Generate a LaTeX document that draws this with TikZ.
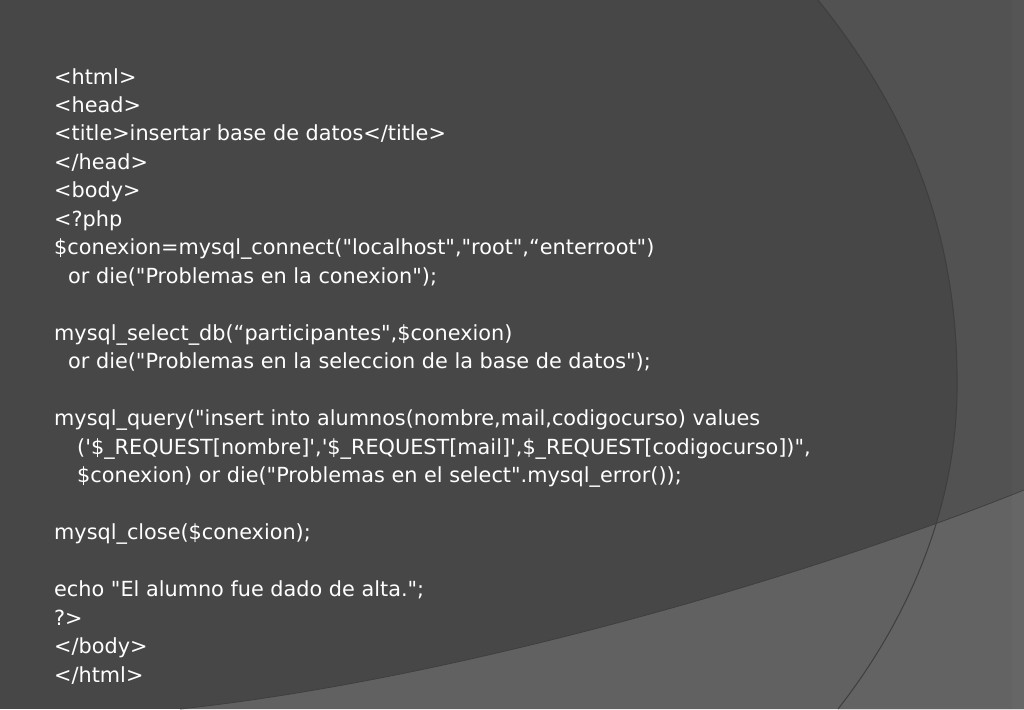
\documentclass[tikz,border=0pt]{standalone}
\usepackage{fontspec}
\newfontfamily\code{DejaVu Sans}
\def\q{\textquotesingle}
\definecolor{bgmain}{RGB}{71,71,71}
\definecolor{bgright}{RGB}{82,82,82}
\definecolor{bglow}{RGB}{102,102,102}
\definecolor{arcline}{RGB}{62,62,62}
\begin{document}
\begin{tikzpicture}[x=1pt,y=-1pt,
  ln/.style={anchor=base west,inner sep=0pt,text=white,font=\code\fontsize{20.8}{24}\selectfont}]
\useasboundingbox (0,0) rectangle (1024,709);
\fill[bgmain] (0,0) rectangle (1024,709);
\fill[bgright] (818,0) .. controls (890,90) and (960,210) .. (957,393)
  .. controls (955,520) and (900,630) .. (838,709) -- (1024,709) -- (1024,0) -- cycle;
\fill[bglow,opacity=0.85] (180,709) .. controls (450,680) and (800,580) .. (1024,490) -- (1024,709) -- cycle;
\draw[arcline,line width=1pt] (818,0) .. controls (890,90) and (960,210) .. (957,393)
  .. controls (955,520) and (900,630) .. (838,709);
\draw[arcline,line width=0.8pt] (180,709) .. controls (450,680) and (800,580) .. (1024,490);
\fill[white,opacity=0.02] (1012,0) rectangle (1024,709);
\foreach \i/\x/\t in {
 0/54/{<html>},
 1/54/{<head>},
 2/54/{<title>insertar base de datos</title>},
 3/54/{</head>},
 4/54/{<body>},
 5/54/{<?php},
 6/54/{\$conexion=mysql\_connect("localhost","root",“enterroot")},
 7/68/{or die("Problemas en la conexion");},
 9/54/{mysql\_select\_db(“participantes",\$conexion)},
 10/68/{or die("Problemas en la seleccion de la base de datos");},
 12/54/{mysql\_query("insert into alumnos(nombre,mail,codigocurso) values},
 13/77/{(\q\$\_REQUEST[nombre]\q,\q\$\_REQUEST[mail]\q,\$\_REQUEST[codigocurso])",},
 14/77/{\$conexion) or die("Problemas en el select".mysql\_error());},
 16/54/{mysql\_close(\$conexion);},
 18/54/{echo "El alumno fue dado de alta.";},
 19/54/{?>},
 20/54/{</body>},
 21/54/{</html>}}
 \node[ln] (l\i) at (\x,{84+28.48*\i}) {\t};
\end{tikzpicture}
\end{document}
